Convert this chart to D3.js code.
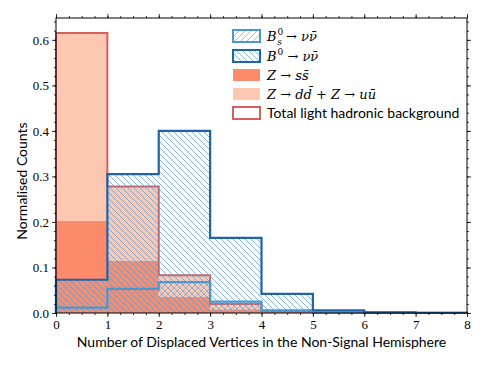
<!DOCTYPE html>
<html>
<head>
<meta charset="utf-8">
<script src="https://cdn.jsdelivr.net/npm/d3@7"></script>
<style>
  body { margin: 0; background: #fff; }
  svg { display: block; }
</style>
</head>
<body>
<div id="chart"></div>
<script>
// bin edges 0..8, one value per bin
const edges = [0, 1, 2, 3, 4, 5, 6, 7, 8]
const zss = [0.202, 0.114, 0.035, 0.008, 0.001, 0, 0, 0]
const zdduu = [0.413, 0.164, 0.048, 0.012, 0.002, 0.0005, 0, 0]
const bs = [0.012, 0.053, 0.068, 0.025, 0.006, 0.003, 0.001, 0.0005]
const b0 = [0.073, 0.305, 0.400, 0.165, 0.042, 0.006, 0.0015, 0.0005]
const yTicks = [0, 0.1, 0.2, 0.3, 0.4, 0.5, 0.6]
const xTicks = [0, 1, 2, 3, 4, 5, 6, 7, 8]

const width = 488
const height = 366
const margin = { top: 18, right: 21, bottom: 53, left: 56 }

const svg = d3.select('#chart')
  .append('svg')
  .attr('width', width)
  .attr('height', height)

const x = d3.scaleLinear().domain([0, 8]).range([margin.left, width - margin.right])
const y = d3.scaleLinear().domain([0, 0.648]).range([height - margin.bottom, margin.top])

const defs = svg.append('defs')

function hatch(id, dir, color) {
  const s = 6
  const p = defs.append('pattern')
    .attr('id', id)
    .attr('patternUnits', 'userSpaceOnUse')
    .attr('width', s)
    .attr('height', s)
  const d = dir === 'back'
    ? `M0,0L${s},${s}M${-s / 2},${s / 2}L${s / 2},${s * 1.5}M${s / 2},${-s / 2}L${s * 1.5},${s / 2}`
    : `M0,${s}L${s},0M${-s / 2},${s / 2}L${s / 2},${-s / 2}M${s / 2},${s * 1.5}L${s * 1.5},${s / 2}`
  p.append('path')
    .attr('d', d)
    .attr('stroke', color)
    .attr('stroke-width', 0.75)
}
hatch('hb0', 'back', '#5c9fd6')
hatch('hbs', 'fwd', '#72b0de')

// step outline points for a histogram
function steps(vals) {
  const pts = [[edges[0], 0]]
  vals.forEach((v, i) => {
    pts.push([edges[i], v])
    pts.push([edges[i + 1], v])
  })
  pts.push([edges[edges.length - 1], 0])
  return pts
}

const line = d3.line().x(d => x(d[0])).y(d => y(d[1]))

function bandArea(lo, hi) {
  const pts = []
  hi.forEach((v, i) => { pts.push({ x: edges[i], lo: lo[i], hi: v }); pts.push({ x: edges[i + 1], lo: lo[i], hi: v }) })
  return d3.area().x(d => x(d.x)).y0(d => y(d.lo)).y1(d => y(d.hi))(pts)
}

const zeros = edges.slice(1).map(() => 0)
const total = zss.map((v, i) => v + zdduu[i])

const plot = svg.append('g')

// stacked backgrounds
plot.append('path').attr('d', bandArea(zeros, zss)).attr('fill', '#fc8b6c')
plot.append('path').attr('d', bandArea(zss, total)).attr('fill', '#fcc8b2')
plot.append('path').attr('d', line(steps(total))).attr('fill', 'none')
  .attr('stroke', '#d65f5f').attr('stroke-width', 2)

// signal hatches
plot.append('path').attr('d', bandArea(zeros, b0)).attr('fill', 'url(#hb0)')
plot.append('path').attr('d', bandArea(zeros, bs)).attr('fill', 'url(#hbs)')
plot.append('path').attr('d', line(steps(bs))).attr('fill', 'none')
  .attr('stroke', '#4a98cf').attr('stroke-width', 2.2)
plot.append('path').attr('d', line(steps(b0))).attr('fill', 'none')
  .attr('stroke', '#1f63aa').attr('stroke-width', 2.2)

// axes
const yb = height - margin.bottom
const xr = width - margin.right
const minorX = d3.range(0, 8.001, 0.25)
const minorY = d3.range(0, 0.6481, 0.02)

function styleAxis(g) {
  g.select('.domain').remove()
  g.selectAll('line').attr('stroke', '#000').attr('stroke-width', 0.8)
}

svg.append('g').attr('transform', `translate(0,${yb})`)
  .call(d3.axisBottom(x).tickValues(minorX).tickSize(2).tickFormat(''))
  .call(styleAxis)
svg.append('g').attr('transform', `translate(0,${yb})`)
  .call(d3.axisBottom(x).tickValues(xTicks).tickSize(4).tickPadding(3).tickFormat(d3.format('d')))
  .call(styleAxis)
  .selectAll('text').attr('font-family', 'Liberation Serif').attr('font-size', 13).attr('fill', '#000')
svg.append('g').attr('transform', `translate(0,${margin.top})`)
  .call(d3.axisTop(x).tickValues(minorX).tickSize(2).tickFormat(''))
  .call(styleAxis)
svg.append('g').attr('transform', `translate(0,${margin.top})`)
  .call(d3.axisTop(x).tickValues(xTicks).tickSize(4).tickFormat(''))
  .call(styleAxis)

svg.append('g').attr('transform', `translate(${margin.left},0)`)
  .call(d3.axisLeft(y).tickValues(minorY).tickSize(2).tickFormat(''))
  .call(styleAxis)
svg.append('g').attr('transform', `translate(${margin.left},0)`)
  .call(d3.axisLeft(y).tickValues(yTicks).tickSize(4).tickPadding(3).tickFormat(d3.format('.1f')))
  .call(styleAxis)
  .selectAll('text').attr('font-family', 'Liberation Serif').attr('font-size', 13).attr('fill', '#000')
svg.append('g').attr('transform', `translate(${xr},0)`)
  .call(d3.axisRight(y).tickValues(minorY).tickSize(2).tickFormat(''))
  .call(styleAxis)
svg.append('g').attr('transform', `translate(${xr},0)`)
  .call(d3.axisRight(y).tickValues(yTicks).tickSize(4).tickFormat(''))
  .call(styleAxis)

svg.append('rect')
  .attr('x', margin.left).attr('y', margin.top)
  .attr('width', xr - margin.left).attr('height', yb - margin.top)
  .attr('fill', 'none').attr('stroke', '#000').attr('stroke-width', 1)

// axis labels
svg.append('text')
  .attr('x', (margin.left + xr) / 2).attr('y', 347)
  .attr('text-anchor', 'middle')
  .attr('font-family', 'Lato').attr('font-size', 14)
  .text('Number of Displaced Vertices in the Non-Signal Hemisphere')

svg.append('text')
  .attr('transform', 'translate(27,181) rotate(-90)')
  .attr('text-anchor', 'middle')
  .attr('font-family', 'Lato').attr('font-size', 14)
  .text('Normalised Counts')

// legend
const legend = svg.append('g')
const rows = [36, 56, 75, 94, 113]
const lx = 233
const pw = 27
const ph = 12

function patch(i, fill, stroke) {
  legend.append('rect')
    .attr('x', lx).attr('y', rows[i] - ph / 2)
    .attr('width', pw).attr('height', ph)
    .attr('fill', fill)
    .attr('stroke', stroke || 'none').attr('stroke-width', 2)
}
patch(0, 'url(#hbs)', '#4a98cf')
patch(1, 'url(#hb0)', '#1f63aa')
patch(2, '#fc8b6c')
patch(3, '#fcc8b2')
patch(4, '#fff', '#d65f5f')

function mathLabel(i, parts) {
  const t = legend.append('text')
    .attr('x', 267).attr('y', rows[i] + 5)
    .attr('font-family', 'DejaVu Serif').attr('font-size', 13)
  parts.forEach(p => {
    const s = t.append('tspan').text(p.t)
    if (p.it) s.attr('font-style', 'italic')
    if (p.small) s.attr('font-size', 9)
    if (p.dx) s.attr('dx', p.dx)
    if (p.dy) s.attr('dy', p.dy)
  })
}
mathLabel(0, [
  { t: 'B', it: true },
  { t: '0', small: true, dx: 1, dy: -6 },
  { t: 's', small: true, it: true, dx: -6, dy: 10 },
  { t: ' → ', dy: -4 },
  { t: 'νν̄', it: true }
])
mathLabel(1, [
  { t: 'B', it: true },
  { t: '0', small: true, dx: 1, dy: -6 },
  { t: ' → ', dy: 6 },
  { t: 'νν̄', it: true }
])
mathLabel(2, [
  { t: 'Z', it: true },
  { t: ' → ' },
  { t: 'ss̄', it: true }
])
mathLabel(3, [
  { t: 'Z', it: true },
  { t: ' → ' },
  { t: 'dd̄', it: true },
  { t: ' + ' },
  { t: 'Z', it: true },
  { t: ' → ' },
  { t: 'uū', it: true }
])
legend.append('text')
  .attr('x', 267).attr('y', rows[4] + 5)
  .attr('font-family', 'Lato').attr('font-size', 14)
  .text('Total light hadronic background')
</script>
</body>
</html>
